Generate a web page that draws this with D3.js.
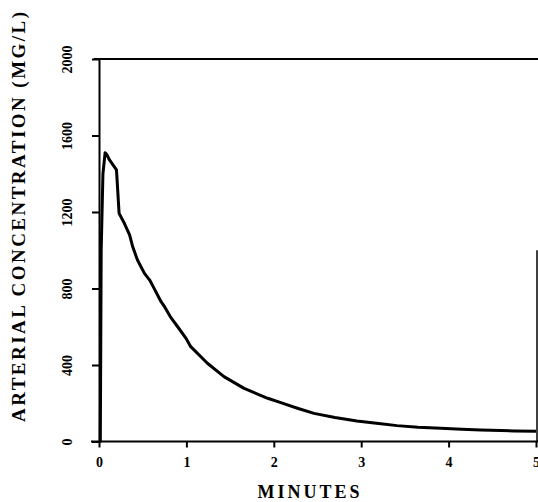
<!DOCTYPE html>
<html>
<head>
<meta charset="utf-8">
<script src="https://cdn.jsdelivr.net/npm/d3@7"></script>
<style>
  html, body { margin: 0; padding: 0; background: #fff; overflow: hidden; }
  svg { display: block; }
  text { font-family: "Liberation Serif", "DejaVu Serif", serif; font-weight: bold; fill: #000; }
</style>
</head>
<body>
<svg id="chart" width="538" height="502"></svg>
<script>
// Arterial concentration after a bolus, minutes vs mg/L
const minutes = [0, 0.015, 0.025, 0.045, 0.07, 0.09, 0.12, 0.17, 0.2, 0.23, 0.29, 0.35, 0.385,
  0.44, 0.52, 0.58, 0.62, 0.71, 0.75, 0.815, 0.9, 1.0, 1.05, 1.24, 1.43, 1.66, 1.93, 2.08,
  2.27, 2.46, 2.7, 2.95, 3.2, 3.41, 3.65, 3.91, 4.15, 4.37, 4.6, 4.75, 5.0];
const concentration = [0, 0, 1000, 1400, 1510, 1500, 1472, 1440, 1420, 1193, 1141, 1080, 1019,
  949, 879, 844, 810, 731, 705, 653, 600, 536, 496, 409, 339, 278, 226, 203,
  174, 147, 125, 107, 94, 83, 75, 69, 64, 60, 57, 55, 54];

const xTicks = [0, 1, 2, 3, 4, 5];
const yTicks = [0, 400, 800, 1200, 1600, 2000];
const xTitle = "MINUTES";
const yTitle = "ARTERIAL CONCENTRATION (MG/L)";

const svg = d3.select("#chart");
const x = d3.scaleLinear().domain([0, 5]).range([99, 536]);
const y = d3.scaleLinear().domain([0, 2000]).range([441.5, 59]);

// top frame line
svg.append("line")
  .attr("x1", 94).attr("x2", 538)
  .attr("y1", y(2000)).attr("y2", y(2000))
  .attr("stroke", "#000").attr("stroke-width", 2);

// right frame segment
svg.append("line")
  .attr("x1", x(5) + 1).attr("x2", x(5) + 1)
  .attr("y1", y(1000)).attr("y2", y(0))
  .attr("stroke", "#000").attr("stroke-width", 1.5);

// x axis
const xAxis = svg.append("g")
  .attr("transform", `translate(0,${y(0)})`)
  .call(d3.axisBottom(x).tickValues(xTicks).tickFormat(d3.format("d")).tickSize(6).tickPadding(10).tickSizeOuter(0));
xAxis.select(".domain").remove();
xAxis.append("line").attr("x1", 91).attr("x2", 538).attr("stroke", "#000").attr("stroke-width", 2);
xAxis.selectAll(".tick line").attr("stroke", "#000").attr("stroke-width", 2);
xAxis.selectAll(".tick text").attr("font-size", 14).attr("font-family", "Liberation Serif")
  .attr("font-weight", "bold").attr("fill", "#000");

// y axis
const yAxis = svg.append("g")
  .attr("transform", `translate(${x(0)},0)`)
  .call(d3.axisLeft(y).tickValues(yTicks).tickFormat(d3.format("d")).tickSize(7).tickSizeOuter(0));
yAxis.select(".domain").attr("stroke", "#000").attr("stroke-width", 2);
yAxis.selectAll(".tick line").attr("stroke", "#000").attr("stroke-width", 2);
yAxis.selectAll(".tick text")
  .attr("font-size", 14).attr("font-family", "Liberation Serif").attr("font-weight", "bold").attr("fill", "#000")
  .attr("x", null).attr("dy", null)
  .attr("text-anchor", "middle")
  .attr("transform", "translate(-32,0) rotate(-90) translate(0,5)");

// concentration curve
const line = d3.line()
  .x((d, i) => x(minutes[i]))
  .y(d => y(d));
svg.append("path")
  .datum(concentration)
  .attr("d", line)
  .attr("fill", "none")
  .attr("stroke", "#000")
  .attr("stroke-width", 3)
  .attr("stroke-linejoin", "round");

// axis titles
svg.append("text")
  .attr("x", 310).attr("y", 498)
  .attr("text-anchor", "middle")
  .attr("font-size", 18)
  .attr("letter-spacing", "3px")
  .text(xTitle);

svg.append("text")
  .attr("transform", "translate(25,217) rotate(-90)")
  .attr("text-anchor", "middle")
  .attr("font-size", 19)
  .attr("textLength", 410)
  .attr("lengthAdjust", "spacing")
  .text(yTitle);
</script>
</body>
</html>
